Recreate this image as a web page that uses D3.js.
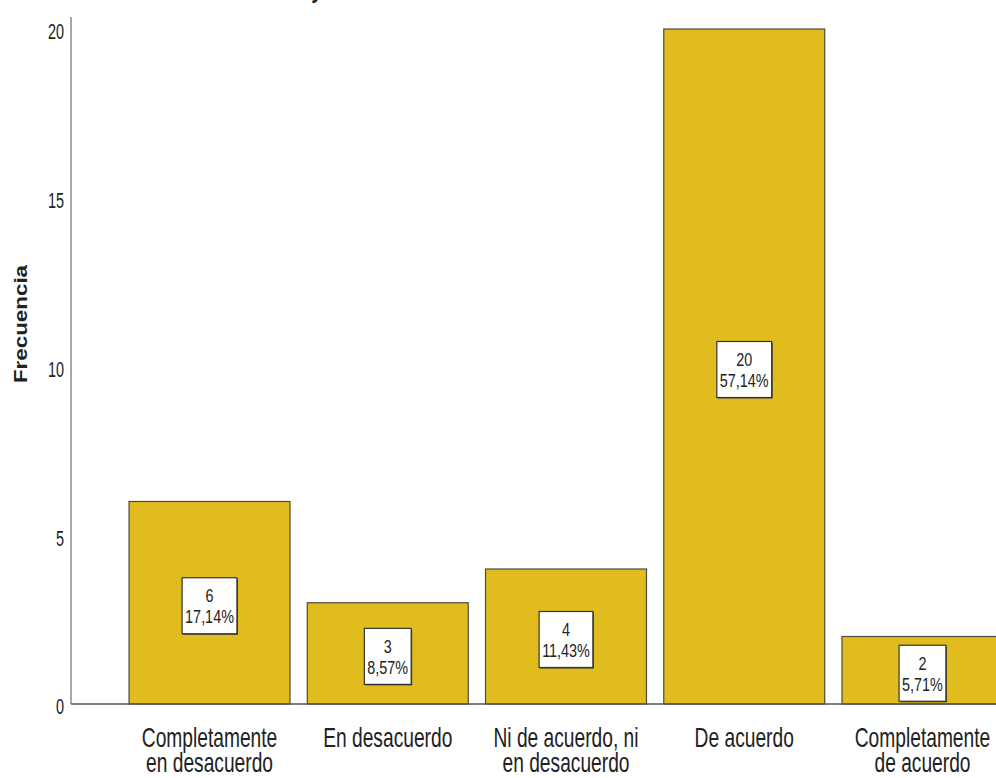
<!DOCTYPE html>
<html>
<head>
<meta charset="utf-8">
<script src="https://cdn.jsdelivr.net/npm/d3@7"></script>
<style>
  html, body { margin: 0; padding: 0; background: #fff; }
  svg { display: block; }
  text { font-family: "Liberation Sans", Arial, sans-serif; fill: #222; }
</style>
</head>
<body>
<svg id="chart" width="996" height="778"></svg>
<script>
// Response categories (two-line labels) and their frequencies
const categories = [
  "Completamente en desacuerdo",
  "En desacuerdo",
  "Ni de acuerdo, ni en desacuerdo",
  "De acuerdo",
  "Completamente de acuerdo"
];
const categoryLines = [
  ["Completamente", "en desacuerdo"],
  ["En desacuerdo"],
  ["Ni de acuerdo, ni", "en desacuerdo"],
  ["De acuerdo"],
  ["Completamente", "de acuerdo"]
];
const frequencies = [6, 3, 4, 20, 2];
const percentLabels = ["17,14%", "8,57%", "11,43%", "57,14%", "5,71%"];
const yTicks = [0, 5, 10, 15, 20];
const yTitle = "Frecuencia";

const svg = d3.select("#chart");

const x = d3.scaleBand()
  .domain(categories)
  .range([120.4, 1011.6])
  .paddingInner(0.097)
  .paddingOuter(0.0485);

const y = d3.scaleLinear().domain([0, 20]).range([704, 29]);

const barFill = "#E1BC1F";
const barStroke = "#4d4a3c";

// Title fragment at the top edge
svg.append("text")
  .attr("transform", "translate(313,-2) scale(1,1.3)")
  .attr("font-size", 20)
  .attr("font-style", "italic")
  .attr("font-weight", "bold")
  .text("y");

// Bars
svg.append("g").selectAll("rect")
  .data(frequencies)
  .join("rect")
  .attr("x", (d, i) => x(categories[i]))
  .attr("y", d => y(d))
  .attr("width", x.bandwidth())
  .attr("height", d => y(0) - y(d))
  .attr("fill", barFill)
  .attr("stroke", barStroke)
  .attr("stroke-width", 1.2);

// Y axis (line and tick labels, no tick marks)
svg.append("line")
  .attr("x1", 71).attr("x2", 71)
  .attr("y1", 17).attr("y2", y(0))
  .attr("stroke", "#a8a8a8")
  .attr("stroke-width", 2);

const yAxis = d3.axisLeft(y).tickValues(yTicks).tickSize(0).tickPadding(0).tickFormat(d3.format("d"));
const yAxisG = svg.append("g").attr("transform", "translate(64,0)").call(yAxis);
yAxisG.select(".domain").remove();
yAxisG.selectAll(".tick text")
  .attr("x", 0)
  .attr("dy", null)
  .attr("font-size", 17)
  .attr("font-family", "'Liberation Sans', Arial, sans-serif")
  .attr("fill", "#222")
  .attr("text-anchor", "end")
  .attr("dominant-baseline", "central")
  .attr("transform", "translate(0,2) scale(0.85,1.35)");

// Baseline
svg.append("line")
  .attr("x1", 71).attr("x2", 996)
  .attr("y1", y(0)).attr("y2", y(0))
  .attr("stroke", "#555")
  .attr("stroke-width", 1.5);

// Y axis title
svg.append("text")
  .attr("transform", `translate(27,${324}) scale(1,1.28) rotate(-90)`)
  .attr("text-anchor", "middle")
  .attr("font-size", 17.5)
  .attr("font-weight", "bold")
  .text(yTitle);

// Category labels, one text element per category with a tspan per line
const catG = svg.append("g");
categoryLines.forEach((lines, i) => {
  const cx = x(categories[i]) + x.bandwidth() / 2;
  const t = catG.append("text")
    .attr("transform", `translate(${cx},746.5) scale(0.8,1.15)`)
    .attr("text-anchor", "middle")
    .attr("font-size", 24);
  lines.forEach((ln, j) => {
    t.append("tspan")
      .attr("x", 0)
      .attr("y", j * 25 / 1.15)
      .text(ln);
  });
});

// Value labels: count and percentage in a white box at bar mid-height
const lblG = svg.append("g");
frequencies.forEach((v, i) => {
  const cx = x(categories[i]) + x.bandwidth() / 2;
  const cy = y(v / 2) + 3;
  const g = lblG.append("g").attr("transform", `translate(${cx},${cy})`);
  const shadow = g.append("rect");
  const box = g.append("rect");
  const sx = 0.9, sy = 1.18;
  const t1 = g.append("text")
    .attr("transform", `translate(0,-9.5) scale(${sx},${sy})`)
    .attr("text-anchor", "middle")
    .attr("dominant-baseline", "central")
    .attr("font-size", 16)
    .text(String(v));
  const t2 = g.append("text")
    .attr("transform", `translate(0,11.5) scale(${sx},${sy})`)
    .attr("text-anchor", "middle")
    .attr("dominant-baseline", "central")
    .attr("font-size", 16)
    .text(percentLabels[i]);
  const w = Math.max(t1.node().getComputedTextLength(), t2.node().getComputedTextLength()) * sx + 6;
  const h = 56;
  shadow.attr("x", -w / 2 + 1).attr("y", -h / 2 + 1).attr("width", w).attr("height", h)
    .attr("fill", "#3a3a30");
  box.attr("x", -w / 2).attr("y", -h / 2).attr("width", w).attr("height", h)
    .attr("fill", "#fff").attr("stroke", "#333").attr("stroke-width", 1.2);
});
</script>
</body>
</html>
